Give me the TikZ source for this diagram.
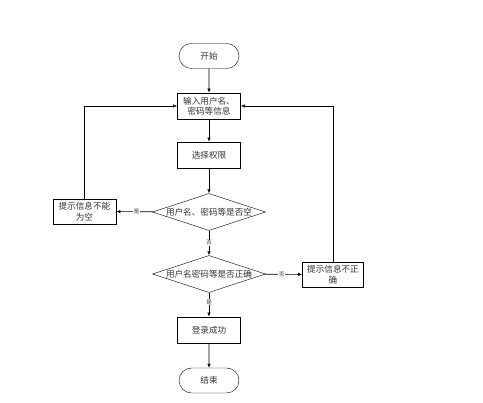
\documentclass[tikz,border=0pt]{standalone}
\usepackage{fontspec}
\newfontfamily\cjk{Noto Sans CJK SC}
\usetikzlibrary{shapes.geometric,shapes.misc,arrows.meta}
\begin{document}
\begin{tikzpicture}[x=1pt,y=-1pt,
  every node/.style={font=\cjk\fontsize{8.6}{10.5}\selectfont, text=black!80},
  term/.style={draw, rounded rectangle, minimum width=62pt, minimum height=25pt, inner sep=1pt},
  proc/.style={draw, thick, rectangle, minimum width=63pt, minimum height=26pt, inner sep=1pt, align=center},
  dec/.style={draw, diamond, aspect=3, minimum width=113pt, minimum height=37pt, inner sep=0pt},
  lab/.style={font=\cjk\fontsize{5.5}{6}\selectfont, fill=white, inner sep=0.5pt},
  arr/.style={-{Latex[length=4pt,width=3.5pt]}, line width=0.6pt}
]
\useasboundingbox (0,0) rectangle (483,403);
\node[term] (start) at (209,56) {开始};
\node[proc] (input) at (209,106) {输入用户名、\\ 密码等信息};
\node[proc] (perm) at (209,155) {选择权限};
\node[dec] (d1) at (209,212) {};
\node (d1t) at (d1.center) {用户名、密码等是否空};
\node[proc, minimum width=63pt, minimum height=25pt] (empty) at (84.5,211.5) {提示信息不能\\为空};
\node[dec] (d2) at (209,274) {};
\node (d2t) at (d2.center) {用户名密码等是否正确};
\node[proc, minimum width=61pt, minimum height=25pt] (wrong) at (333,274.5) {提示信息不正\\确};
\node[proc] (ok) at (209,330) {登录成功};
\node[term] (end) at (209,380.5) {结束};

\draw[arr] (start) -- (input);
\draw[arr] (input) -- (perm);
\draw[arr] (perm) -- (d1);
\draw[arr] (d1) -- node[lab, pos=0.45]{是} (empty);
\draw[arr] (d1) -- node[lab, pos=0.5]{否} (d2);
\draw[arr] (d2) -- node[lab, pos=0.45]{否} (wrong);
\draw[arr] (d2) -- node[lab, pos=0.4]{是} (ok);
\draw[arr] (ok) -- (end);
\draw[arr] (empty.north) |- (input.west);
\draw[arr] (wrong.north) |- (input.east);
\end{tikzpicture}
\end{document}
